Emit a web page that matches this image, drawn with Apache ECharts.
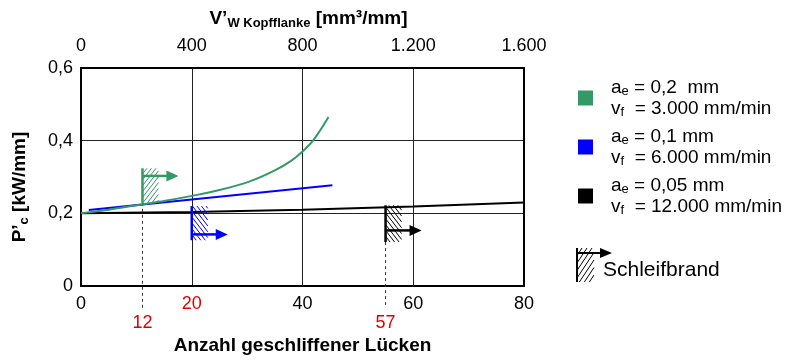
<!DOCTYPE html>
<html><head><meta charset="utf-8">
<script src="https://cdn.jsdelivr.net/npm/echarts@6/dist/echarts.min.js"></script>
<style>html,body{margin:0;padding:0;background:#fff}#c{width:802px;height:360px}</style>
</head><body><div id="c"></div>
<script>
const FONT = '"Liberation Sans", Arial, Helvetica, sans-serif';

// ---- data ----
const seriesNames = ['ae02', 'ae01', 'ae005'];
const greenX = [0, 5, 11.1, 15, 20, 25, 30.5, 35, 38, 40, 42, 44.7];
const greenY = [0.200, 0.210, 0.225, 0.234, 0.248, 0.264, 0.288, 0.318, 0.345, 0.370, 0.402, 0.465];
const blueX = [1.4, 20, 45.4];
const blueY = [0.209, 0.238, 0.277];
const blackX = [0, 20, 40, 60, 80];
const blackY = [0.200, 0.204, 0.210, 0.219, 0.230];

// Schleifbrand (grinding burn) markers
const burnX = [11.1, 20, 55];
const burnTop = [0.324, 0.220, 0.222];
const burnBottom = [0.229, 0.126, 0.121];
const burnArrowY = [0.303, 0.142, 0.153];
const burnHatch = [1, -1, -1];
// dashed guide lines with red labels below the axis
const guideX = [11.1, 55];
const guideStartY = [0.229, 0.121];
const guideLabels = ['12', '57'];
const redTickValues = [20];

// axes ticks
const bottomTicks = [0, 20, 40, 60, 80];
const topTicks = [0, 400, 800, 1200, 1600];
const yTicks = [0, 0.2, 0.4, 0.6];

const legendLines = {
  ae02: ['{m|a}{s|e}{m| = 0,2  mm}', '{m|v}{s|f}{m|  = 3.000 mm/min}'],
  ae01: ['{m|a}{s|e}{m| = 0,1 mm}', '{m|v}{s|f}{m|  = 6.000 mm/min}'],
  ae005: ['{m|a}{s|e}{m| = 0,05 mm}', '{m|v}{s|f}{m|  = 12.000 mm/min}']
};
const colors = ['#339966', '#0000ff', '#000000'];

// ---- build ----
const zip = (xs, ys) => xs.map((x, i) => [x, ys[i]]);
const burnData = burnX.map((x, i) => [x, burnTop[i], burnBottom[i], burnArrowY[i], i, burnHatch[i]]);
const guideData = guideX.map((x, i) => [x, guideStartY[i], guideLabels[i]]);

function hatchLines(x0, y0, w, h, dir, step, k, color) {
  const out = [];
  const span = h / k;
  for (let c = x0 - span; c < x0 + w; c += step) {
    const xa = Math.max(c, x0), xb = Math.min(c + span, x0 + w);
    if (xb <= xa) continue;
    let ya, yb;
    if (dir > 0) { ya = y0 + h - k * (xa - c); yb = y0 + h - k * (xb - c); }
    else { ya = y0 + k * (xa - c); yb = y0 + k * (xb - c); }
    out.push({ type: 'line', shape: { x1: xa, y1: ya, x2: xb, y2: yb }, style: { stroke: color, lineWidth: 1 } });
  }
  return out;
}

const chart = echarts.init(document.getElementById('c'), null, { renderer: 'canvas' });
const axisLabelBase = { fontFamily: FONT, fontSize: 18, color: '#000' };

const sbX = 577, sbTop = 248, sbBot = 282, sbArrow = 253;
const sbChildren = [].concat(
  hatchLines(sbX, sbTop, 17, sbBot - sbTop, 1, 5, 1.5, '#000'),
  [
    { type: 'line', shape: { x1: sbX, y1: sbTop, x2: sbX, y2: sbBot }, style: { stroke: '#000', lineWidth: 2 } },
    { type: 'line', shape: { x1: sbX, y1: sbArrow, x2: sbX + 24, y2: sbArrow }, style: { stroke: '#000', lineWidth: 2 } },
    { type: 'polygon', shape: { points: [[sbX + 23, sbArrow - 5], [sbX + 35, sbArrow], [sbX + 23, sbArrow + 5]] }, style: { fill: '#000' } },
    { type: 'text', x: 603, y: 270, style: { text: 'Schleifbrand', fontFamily: FONT, fontSize: 21, fill: '#000', verticalAlign: 'middle' } }
  ]
);

const option = {
  animation: false,
  backgroundColor: '#fff',
  grid: { left: 81, right: 278, top: 68, bottom: 68, containLabel: false },
  legend: {
    orient: 'vertical', left: 573, top: 73, itemWidth: 15, itemHeight: 15, itemGap: 8,
    icon: 'rect', data: seriesNames,
    formatter: name => legendLines[name].map(l => '{sp|}' + l).join('\n'),
    textStyle: {
      fontFamily: FONT, color: '#000',
      rich: {
        sp: { width: 13 },
        m: { fontFamily: FONT, fontSize: 19, lineHeight: 21, color: '#000' },
        s: { fontFamily: FONT, fontSize: 13, lineHeight: 6, verticalAlign: 'bottom', color: '#000' }
      }
    }
  },
  graphic: [{ type: 'group', children: sbChildren }],
  xAxis: [
    {
      type: 'value', position: 'bottom', min: 0, max: 80, interval: 20,
      axisLine: { show: true, onZero: false, lineStyle: { color: '#000', width: 2 } },
      axisTick: { show: false },
      splitLine: { show: true, lineStyle: { color: '#222', width: 1 } },
      axisLabel: Object.assign({}, axisLabelBase, { margin: 9,
        color: v => redTickValues.includes(Number(v)) ? '#e00000' : '#000' }),
      name: 'Anzahl geschliffener Lücken', nameLocation: 'middle', nameGap: 50,
      nameTextStyle: { fontFamily: FONT, fontSize: 19, fontWeight: 'bold', color: '#000' }
    },
    {
      type: 'value', position: 'top', min: 0, max: 1600, interval: 400,
      axisLine: { show: true, onZero: false, lineStyle: { color: '#000', width: 2 } },
      axisTick: { show: false }, splitLine: { show: false },
      axisLabel: Object.assign({}, axisLabelBase, { margin: 13,
        formatter: v => v >= 1000 ? Math.floor(v / 1000) + '.' + String(v % 1000).padStart(3, '0') : String(v) }),
      name: '{b|V’}{s|W Kopfflanke}{b| [mm³/mm]}', nameLocation: 'middle', nameGap: 38,
      nameTextStyle: { fontFamily: FONT, color: '#000', padding: [0, 0, 0, 12],
        rich: {
          b: { fontFamily: FONT, fontSize: 19, fontWeight: 'bold', lineHeight: 22, color: '#000' },
          s: { fontFamily: FONT, fontSize: 13, fontWeight: 'bold', lineHeight: 8, verticalAlign: 'bottom', color: '#000' }
        } }
    }
  ],
  yAxis: [
    {
      type: 'value', position: 'left', min: 0, max: 0.6, interval: 0.2,
      axisLine: { show: true, onZero: false, lineStyle: { color: '#000', width: 2 } },
      axisTick: { show: false },
      splitLine: { show: true, lineStyle: { color: '#222', width: 1 } },
      axisLabel: Object.assign({}, axisLabelBase, { margin: 8,
        formatter: v => v === 0 ? '0' : v.toFixed(1).replace('.', ',') }),
      name: '{b|P’}{s|c}{b| [kW/mm]}', nameLocation: 'middle', nameGap: 50, nameRotate: 90,
      nameTextStyle: { fontFamily: FONT, color: '#000', padding: [0, 20, 0, 0],
        rich: {
          b: { fontFamily: FONT, fontSize: 19, fontWeight: 'bold', lineHeight: 22, color: '#000' },
          s: { fontFamily: FONT, fontSize: 13, fontWeight: 'bold', lineHeight: 8, verticalAlign: 'bottom', color: '#000' }
        } }
    },
    {
      type: 'value', position: 'right', min: 0, max: 0.6, interval: 0.2,
      axisLine: { show: true, onZero: false, lineStyle: { color: '#000', width: 2 } },
      axisTick: { show: false }, axisLabel: { show: false }, splitLine: { show: false }
    }
  ],
  series: [
    { name: seriesNames[0], type: 'line', data: zip(greenX, greenY), smooth: 0.35, showSymbol: false, symbol: 'none',
      itemStyle: { color: colors[0] }, lineStyle: { color: colors[0], width: 2 }, z: 3 },
    { name: seriesNames[1], type: 'line', data: zip(blueX, blueY), smooth: false, showSymbol: false, symbol: 'none',
      itemStyle: { color: colors[1] }, lineStyle: { color: colors[1], width: 2 }, z: 2 },
    { name: seriesNames[2], type: 'line', data: zip(blackX, blackY), smooth: false, showSymbol: false, symbol: 'none',
      itemStyle: { color: colors[2] }, lineStyle: { color: colors[2], width: 2 }, z: 2 },
    {
      name: 'guides', type: 'custom', clip: false, data: guideData, z: 1,
      renderItem: (params, api) => {
        const x = api.value(0), y0 = api.value(1);
        const pS = api.coord([x, y0]), pZ = api.coord([x, 0]);
        return { type: 'group', children: [
          { type: 'line', shape: { x1: pS[0], y1: pS[1], x2: pS[0], y2: pZ[1] + 22 },
            style: { stroke: '#333', lineWidth: 1, lineDash: [3, 3] } },
          { type: 'text', x: pZ[0], y: pZ[1] + 37,
            style: { text: guideLabels[params.dataIndex], fontFamily: FONT, fontSize: 18, fill: '#e00000', align: 'center', verticalAlign: 'middle' } }
        ] };
      }
    },
    {
      name: 'burn', type: 'custom', clip: false, data: burnData, z: 4,
      renderItem: (params, api) => {
        const x = api.value(0);
        const pT = api.coord([x, api.value(1)]), pB = api.coord([x, api.value(2)]), pA = api.coord([x, api.value(3)]);
        const col = colors[api.value(4)], dir = api.value(5);
        const children = hatchLines(pT[0], pT[1], 16, pB[1] - pT[1], dir, 4.5, 1.3, col);
        children.push(
          { type: 'line', shape: { x1: pT[0], y1: pT[1], x2: pB[0], y2: pB[1] }, style: { stroke: col, lineWidth: 2.5 } },
          { type: 'line', shape: { x1: pA[0], y1: pA[1], x2: pA[0] + 25, y2: pA[1] }, style: { stroke: col, lineWidth: 2.5 } },
          { type: 'polygon', shape: { points: [[pA[0] + 24, pA[1] - 5.5], [pA[0] + 36, pA[1]], [pA[0] + 24, pA[1] + 5.5]] }, style: { fill: col } }
        );
        return { type: 'group', children };
      }
    }
  ]
};
chart.setOption(option);
</script>
</body></html>
